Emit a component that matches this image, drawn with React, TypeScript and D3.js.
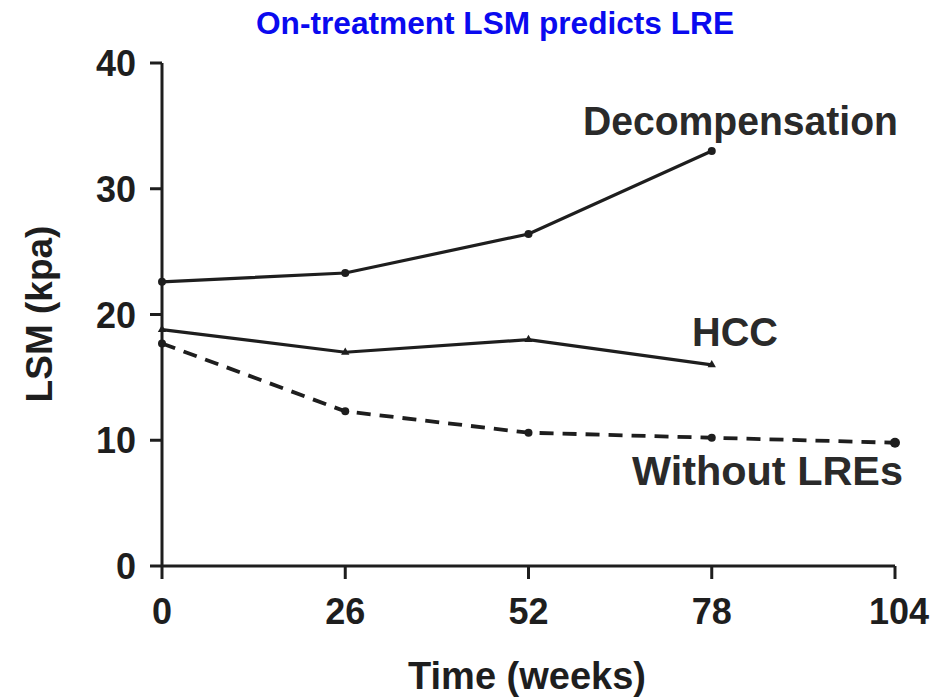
import React from "react";
import * as d3 from "d3";

const weeks = [0, 26, 52, 78, 104];
const yTicks = [0, 10, 20, 30, 40];
const decompWeeks = [0, 26, 52, 78];
const decompValues = [22.6, 23.3, 26.4, 33.0];
const hccWeeks = [0, 26, 52, 78];
const hccValues = [18.8, 17.0, 18.0, 16.0];
const noLreWeeks = [0, 26, 52, 78, 104];
const noLreValues = [17.7, 12.3, 10.6, 10.2, 9.8];
const title = "On-treatment LSM predicts LRE";
const xLabel = "Time (weeks)";
const yLabel = "LSM (kpa)";

const W = 942;
const H = 698;
const FONT = "'Liberation Sans', Arial, Helvetica, sans-serif";
const INK = "#1e1e1e";

export default function App() {
  const x = d3.scaleLinear().domain([0, 104]).range([162, 895]);
  const y = d3.scaleLinear().domain([0, 40]).range([566, 63]);
  const line = d3
    .line<[number, number]>()
    .x((d) => x(d[0]))
    .y((d) => y(d[1]));

  const decomp: [number, number][] = decompWeeks.map((w, i) => [w, decompValues[i]]);
  const hcc: [number, number][] = hccWeeks.map((w, i) => [w, hccValues[i]]);
  const noLre: [number, number][] = noLreWeeks.map((w, i) => [w, noLreValues[i]]);

  const tri = d3.symbol().type(d3.symbolTriangle).size(30)();

  return (
    <svg
      width={W}
      height={H}
      style={{ position: "absolute", left: 0, top: 0, background: "#fff" }}
      fontFamily={FONT}
    >
      <rect x={0} y={0} width={W} height={H} fill="#fff" />
      <text x={495} y={34} textAnchor="middle" fontSize={32} fontWeight="bold" fill="#0a0aef" textLength={478} lengthAdjust="spacingAndGlyphs">
        {title}
      </text>

      {/* axes */}
      <line x1={162} x2={162} y1={y(40)} y2={y(0)} stroke={INK} strokeWidth={3} />
      <line x1={x(0)} x2={x(104)} y1={566} y2={566} stroke={INK} strokeWidth={3} />
      {yTicks.map((t) => (
        <g key={"y" + t}>
          <line x1={150} x2={162} y1={y(t)} y2={y(t)} stroke={INK} strokeWidth={3} />
          <text x={136} y={y(t) + 13} textAnchor="end" fontSize={36} fontWeight="bold" fill={INK}>
            {t}
          </text>
        </g>
      ))}
      {weeks.map((t) => (
        <g key={"x" + t}>
          <line x1={x(t)} x2={x(t)} y1={566} y2={579} stroke={INK} strokeWidth={3} />
          <text x={t === 104 ? x(t) + 4 : x(t)} y={624} textAnchor="middle" fontSize={36} fontWeight="bold" fill={INK}>
            {t}
          </text>
        </g>
      ))}
      <text x={527} y={689} textAnchor="middle" fontSize={38} fontWeight="bold" fill={INK}>
        {xLabel}
      </text>
      <text
        transform={`translate(52,314) rotate(-90)`}
        textAnchor="middle"
        fontSize={37}
        fontWeight="bold"
        fill={INK}
      >
        {yLabel}
      </text>

      {/* series */}
      <path d={line(decomp) || ""} fill="none" stroke={INK} strokeWidth={3.2} />
      {decomp.map((d, i) => (
        <circle key={"dc" + i} cx={x(d[0])} cy={y(d[1])} r={4} fill={INK} />
      ))}
      <path d={line(hcc) || ""} fill="none" stroke={INK} strokeWidth={3.2} />
      {hcc.map((d, i) => (
        <path key={"hc" + i} d={tri || ""} transform={`translate(${x(d[0])},${y(d[1])})`} fill={INK} />
      ))}
      <path
        d={line(noLre) || ""}
        fill="none"
        stroke={INK}
        strokeWidth={3.8}
        strokeDasharray="14 9"
      />
      {noLre.map((d, i) => (
        <circle key={"nl" + i} cx={x(d[0])} cy={y(d[1])} r={i === noLre.length - 1 ? 5 : 4} fill={INK} />
      ))}

      {/* labels */}
      <text x={583} y={135} fontSize={40} fontWeight="bold" fill="#2a2a2a" textLength={315} lengthAdjust="spacingAndGlyphs">
        Decompensation
      </text>
      <text x={692} y={346} fontSize={40} fontWeight="bold" fill="#2a2a2a" textLength={86} lengthAdjust="spacingAndGlyphs">
        HCC
      </text>
      <text x={632} y={485} fontSize={40} fontWeight="bold" fill="#2a2a2a" textLength={271} lengthAdjust="spacingAndGlyphs">
        Without LREs
      </text>
    </svg>
  );
}
